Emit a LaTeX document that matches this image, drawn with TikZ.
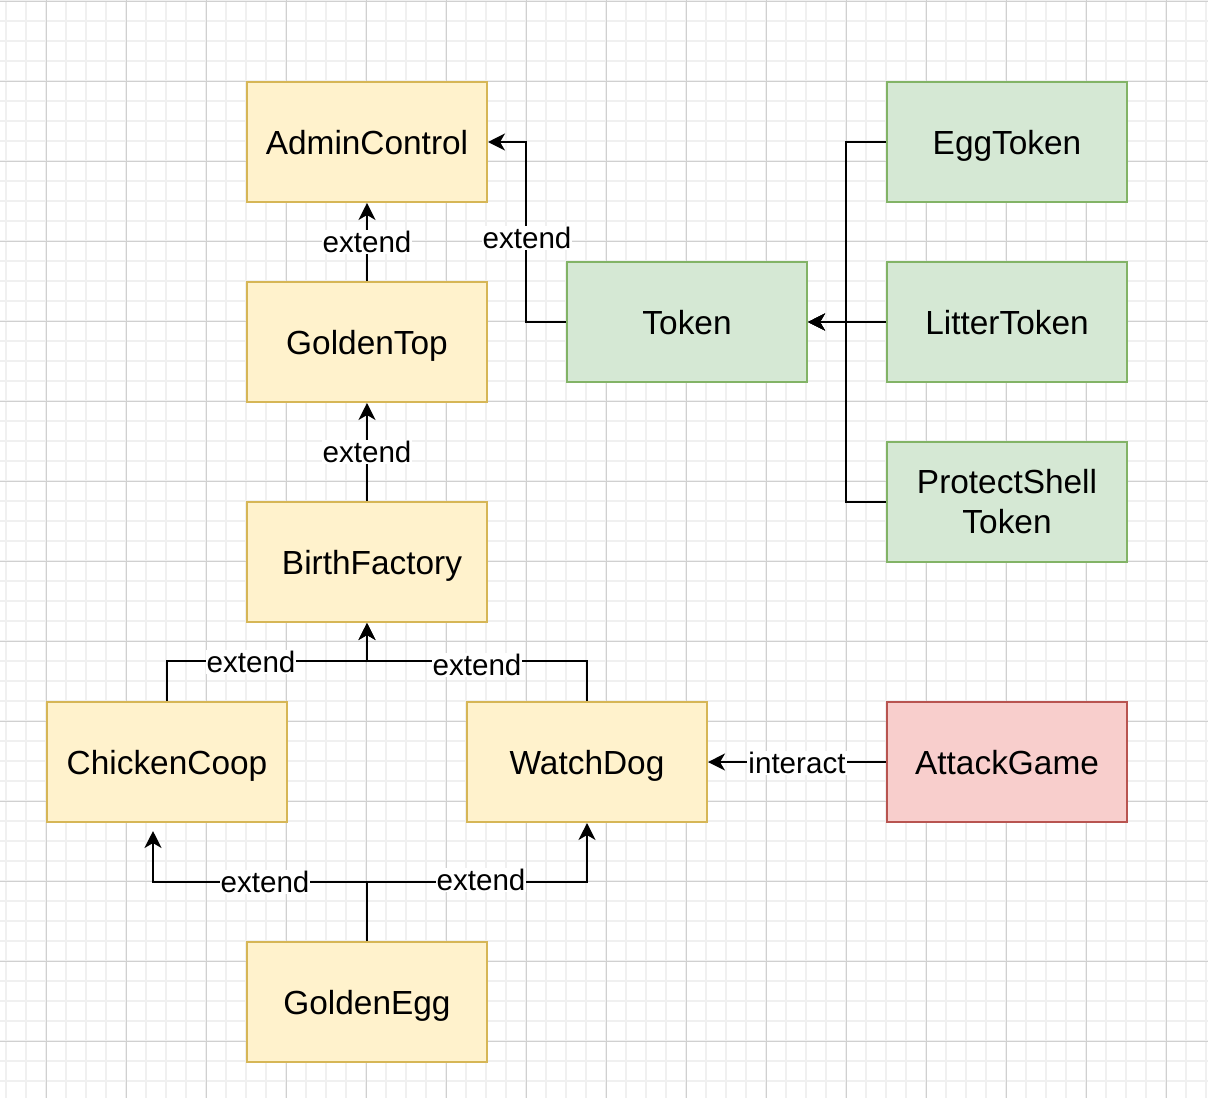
\documentclass[tikz,border=0pt]{standalone}
\usepackage{fontspec}
\setmainfont{Liberation Sans}
\usetikzlibrary{arrows.meta}

\definecolor{yfill}{HTML}{FFF2CC}
\definecolor{ydraw}{HTML}{D6B656}
\definecolor{gfill}{HTML}{D5E8D4}
\definecolor{gdraw}{HTML}{82B366}
\definecolor{rfill}{HTML}{F8CECC}
\definecolor{rdraw}{HTML}{B85450}
\definecolor{gridminor}{RGB}{240,240,240}
\definecolor{gridmajor}{RGB}{208,208,208}

\tikzset{
  box/.style={draw, line width=1pt, minimum width=120pt, minimum height=60pt, inner sep=0pt, align=center, text height=12.2pt, text depth=0pt, font=\fontsize{16.7}{20}\selectfont},
  cls/.style={box, fill=yfill, draw=ydraw},
  tok/.style={box, fill=gfill, draw=gdraw},
  game/.style={box, fill=rfill, draw=rdraw},
  lbl/.style={fill=white, inner sep=0.5pt, font=\fontsize{14.8}{17}\selectfont},
  edge/.style={->, line width=1pt},
}

\begin{document}
\begin{tikzpicture}[x=0.5pt, y=-0.5pt, >={Stealth[length=8.5pt, width=8.5pt, inset=2.5pt]}]
        \useasboundingbox (0,0) rectangle (1208,1098);
        \fill[white] (0,0) rectangle (1208,1098);

        % Background grid
        \foreach \x in {6,26,...,1206} \draw[gridminor, line width=1pt] (\x,0) -- (\x,1098);
        \foreach \y in {1,21,...,1097} \draw[gridminor, line width=1pt] (0,\y) -- (1208,\y);
        \foreach \x in {46,126,...,1166} \draw[gridmajor, line width=0.5pt] (\x,0) -- (\x,1098);
        \foreach \y in {1,81,...,1041} \draw[gridmajor, line width=0.5pt] (0,\y) -- (1208,\y);

        % Contract classes
        \node[cls] (admin) at (367,142) {AdminControl};
        \node[cls] (goldentop) at (367,342) {GoldenTop};
        \node[cls] (birth) at (367,562) {\hspace{5pt}BirthFactory};
        \node[cls] (coop) at (167,762) {ChickenCoop};
        \node[cls] (watchdog) at (587,762) {WatchDog};
        \node[cls] (goldenegg) at (367,1002) {GoldenEgg};

        % Tokens
        \node[tok] (token) at (687,322) {Token};
        \node[tok] (eggtoken) at (1007,142) {EggToken};
        \node[tok] (littertoken) at (1007,322) {LitterToken};
        \node[tok, text height=, text depth=] (shelltoken) at (1007,502) {ProtectShell\\Token};

        % Attacker
        \node[game] (attack) at (1007,762) {AttackGame};

        % Connect nodes
        \draw[edge] (goldentop) -- (admin);
        \draw[edge] (birth) -- (goldentop);
        \draw[edge] (token.west) -- ++(-40,0) |- (admin.east);

        \draw[edge] (eggtoken.west) -- ++(-40,0) |- (token.east);
        \draw[edge] (littertoken) -- (token);
        \draw[edge] (shelltoken.west) -- ++(-40,0) |- (token.east);

        \draw[edge] (coop.north) -- ++(0,-40) -| (birth.south);
        \draw[edge] (watchdog.north) -- ++(0,-40) -| (birth.south);

        \coordinate (eggsplit) at (367,882);
        \draw[edge] (goldenegg.north) -- (eggsplit) -| ([xshift=-7pt, yshift=-4pt]coop.south);
        \draw[edge] (goldenegg.north) -- (eggsplit) -| (watchdog.south);

        \draw[edge] (attack) -- (watchdog);

        % Edge labels
        \node[lbl] (lbltop) at (367,242) {extend};
        \node[lbl] (lblbirth) at (367,452) {extend};
        \node[lbl] (lbltoken) at (527,238) {extend};
        \node[lbl] (lblcoop) at (251,662) {extend};
        \node[lbl] (lbldog) at (477,665) {extend};
        \node[lbl] (lbleggcoop) at (265,882) {extend};
        \node[lbl] (lbleggdog) at (481,880) {extend};
        \node[lbl] (lblattack) at (797,763) {interact};
    \end{tikzpicture}
\end{document}
